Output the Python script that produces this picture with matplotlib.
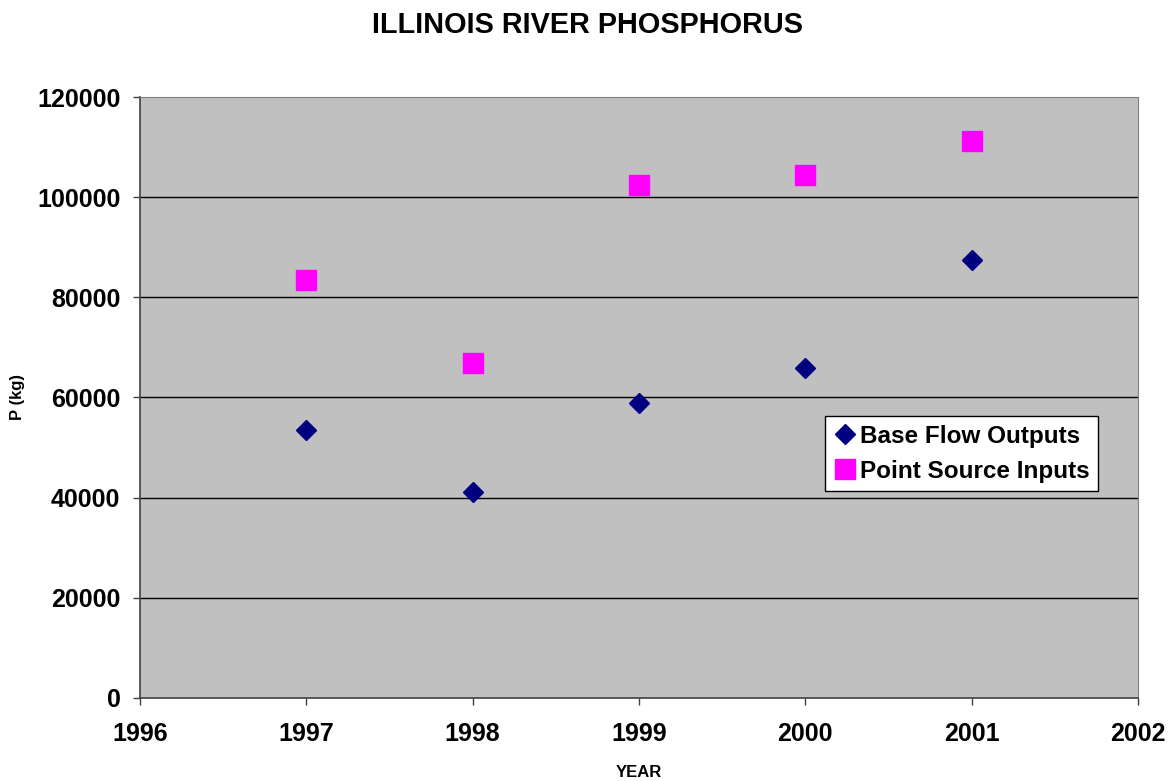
import matplotlib
matplotlib.use("Agg")
import matplotlib.pyplot as plt

years = [1997, 1998, 1999, 2000, 2001]
base_flow = [53600, 41200, 58900, 65800, 87500]
point_source = [83400, 66900, 102400, 104400, 111200]
x_ticks = [1996, 1997, 1998, 1999, 2000, 2001, 2002]
y_ticks = [0, 20000, 40000, 60000, 80000, 100000, 120000]

plt.rcParams["font.family"] = ["Liberation Sans", "DejaVu Sans"]
plt.rcParams["font.weight"] = "bold"

fig = plt.figure(figsize=(11.76, 7.81), dpi=100, facecolor="white")
ax = fig.add_axes([0.119, 0.1063, 0.8487, 0.7695])
ax.set_facecolor("#C0C0C0")

for y in y_ticks[1:-1]:
    ax.axhline(y, color="black", lw=1, zorder=1)

ax.plot(years, base_flow, linestyle="none", marker="D", markersize=10.5,
        color="#000080", label="Base Flow Outputs", zorder=3)
ax.plot(years, point_source, linestyle="none", marker="s", markersize=14,
        color="#FF00FF", label="Point Source Inputs", zorder=3)

ax.set_xlim(1996, 2002)
ax.set_ylim(0, 120000)
ax.set_xticks(x_ticks)
ax.set_yticks(y_ticks)
ax.tick_params(axis="both", direction="out", length=5, width=1,
               labelsize=18, color="#404040")
ax.tick_params(axis="x", pad=12)
ax.tick_params(axis="y", pad=9)
for lab in ax.get_xticklabels() + ax.get_yticklabels():
    lab.set_fontweight("bold")

for side in ["top", "right"]:
    ax.spines[side].set_color("#808080")
for side in ["left", "bottom"]:
    ax.spines[side].set_color("#404040")
    ax.spines[side].set_linewidth(1.2)

ax.set_xlabel("YEAR", fontsize=12, fontweight="bold", labelpad=14)
ax.set_ylabel("P (kg)", fontsize=12, fontweight="bold", labelpad=9)
fig.suptitle("ILLINOIS RIVER PHOSPHORUS", fontsize=20.8, fontweight="bold", y=0.986)

leg = ax.legend(loc="upper left", bbox_to_anchor=(0.686, 0.469), fontsize=17.5,
                frameon=True, fancybox=False, framealpha=1, edgecolor="black",
                borderpad=0.35, handletextpad=0.1, handlelength=1.0,
                labelspacing=0.5, borderaxespad=0)
leg.get_frame().set_linewidth(1)
for t in leg.get_texts():
    t.set_fontweight("bold")

fig.savefig("out.png", dpi=100)
